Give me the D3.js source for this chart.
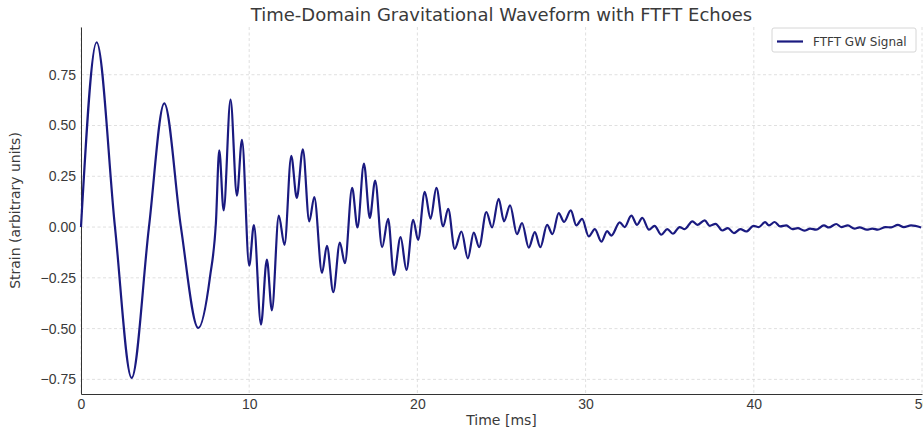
<!DOCTYPE html>
<html>
<head>
<meta charset="utf-8">
<script src="https://cdn.jsdelivr.net/npm/d3@7"></script>
<style>
  body { margin: 0; background: #fff; }
  svg { display: block; font-family: "DejaVu Sans", sans-serif; }
  .grid line { stroke: #d8d8d8; stroke-width: 0.8; stroke-dasharray: 3,2.5; }
  .axis path { stroke: #333; }
  .axis text { fill: #3a3a3a; font-size: 14px; }
</style>
</head>
<body>
<div id="chart"></div>
<script>
const xTicks = [0, 10, 20, 30, 40, 50];
const yTicks = [-0.75, -0.5, -0.25, 0, 0.25, 0.5, 0.75];
const seriesName = "FTFT GW Signal";

// waveform: extrema + a few crossings
const timeMs = [
  0, 0.93, 2.02, 3.01, 4.04, 4.95, 5.94, 6.97, 7.67, 8.02,
  8.22, 8.48, 8.89, 9.27, 9.57, 10.0, 10.28, 10.70, 11.05, 11.35,
  11.76, 12.10, 12.50, 12.83, 13.19, 13.57, 13.87, 14.33, 14.62, 15.00,
  15.39, 15.69, 16.12, 16.44, 16.82, 17.17, 17.49, 17.90, 18.26, 18.60,
  19.00, 19.35, 19.75, 20.04, 20.44, 20.78, 21.13, 21.53, 21.83, 22.22,
  22.62, 23.00, 23.35, 23.67, 24.10, 24.44, 24.83, 25.15, 25.51, 25.92,
  26.22, 26.62, 26.98, 27.31, 27.71, 28.03, 28.40, 28.72, 29.12, 29.45,
  29.79, 30.19, 30.55, 30.94, 31.28, 31.53, 32.03, 32.32, 32.72, 33.06,
  33.37, 33.77, 34.10, 34.50, 34.86, 35.19, 35.59, 35.89, 36.35, 36.64,
  37.08, 37.38, 37.73, 38.13, 38.46, 38.82, 39.20, 39.55, 39.99, 40.30,
  40.67, 40.90, 41.24, 41.57, 41.93, 42.29, 42.62, 43.00, 43.35, 43.70,
  44.17, 44.46, 44.90, 45.20, 45.59, 45.99, 46.29, 46.72, 47.04, 47.37,
  47.83, 48.17, 48.56, 48.92, 49.35, 49.95
];
const strain = [
  0, 0.91, 0.0, -0.743, 0.0, 0.609, 0.0, -0.497, -0.245, 0.02,
  0.378, 0.082, 0.627, 0.155, 0.429, -0.19, 0.01, -0.48, -0.16, -0.41,
  0.056, -0.088, 0.35, 0.143, 0.383, 0.028, 0.148, -0.226, -0.093, -0.32,
  -0.076, -0.178, 0.193, -0.002, 0.313, 0.045, 0.229, -0.099, 0.04, -0.236,
  -0.05, -0.211, 0.036, -0.063, 0.173, 0.041, 0.193, 0.003, 0.09, -0.107,
  -0.022, -0.154, -0.027, -0.099, 0.074, -0.002, 0.139, 0.028, 0.107, -0.035,
  0.02, -0.101, -0.025, -0.099, 0.011, -0.035, 0.069, 0.025, 0.082, 0.008,
  0.04, -0.046, -0.01, -0.072, -0.02, -0.042, 0.023, 0.0, 0.056, 0.011,
  0.045, -0.013, 0.006, -0.038, -0.01, -0.033, 0.0, -0.01, 0.028, 0.011,
  0.033, 0.006, 0.016, -0.017, -0.005, -0.03, -0.01, -0.022, 0.006, 0.0,
  0.024, 0.008, 0.025, 0.003, 0.008, -0.01, -0.005, -0.018, -0.008, -0.013,
  0.008, -0.002, 0.015, 0.0, 0.008, -0.008, -0.002, -0.013, -0.008, -0.013,
  0.0, -0.002, 0.011, 0.0, 0.008, -0.002
];

const width = 923, height = 435;
const margin = {top: 27, right: 1, bottom: 41, left: 81};

const svg = d3.select("#chart").append("svg")
  .attr("width", width)
  .attr("height", height);

const x = d3.scaleLinear().domain([0, 50]).range([margin.left, width - margin.right]);
const y = d3.scaleLinear().domain([-0.822, 0.985]).range([height - margin.bottom, margin.top]);

// grid
svg.append("g").attr("class", "grid")
  .selectAll("line").data(xTicks).enter().append("line")
  .attr("x1", d => x(d)).attr("x2", d => x(d))
  .attr("y1", margin.top).attr("y2", height - margin.bottom);
svg.append("g").attr("class", "grid")
  .selectAll("line").data(yTicks).enter().append("line")
  .attr("x1", margin.left).attr("x2", width - margin.right)
  .attr("y1", d => y(d)).attr("y2", d => y(d));

// axes
const xaxis = d3.axisBottom(x).tickValues(xTicks).tickSize(0).tickPadding(5).tickFormat(d3.format("d"));
svg.append("g").attr("class", "axis")
  .attr("transform", `translate(0,${height - margin.bottom})`)
  .call(xaxis);
const yaxis = d3.axisLeft(y).tickValues(yTicks).tickSize(0).tickPadding(5).tickFormat(d3.format(".2f"));
svg.append("g").attr("class", "axis")
  .attr("transform", `translate(${margin.left},0)`)
  .call(yaxis);

// waveform
const pts = timeMs.map((t, i) => [t, strain[i]]);
const line = d3.line()
  .x(d => x(d[0]))
  .y(d => y(d[1]))
  .curve(d3.curveMonotoneX);
svg.append("path")
  .datum(pts)
  .attr("d", line)
  .attr("fill", "none")
  .attr("stroke", "#1a1a80")
  .attr("stroke-width", 2.2)
  .attr("stroke-linejoin", "round");

// labels
svg.append("text")
  .attr("x", (margin.left + width - margin.right) / 2)
  .attr("y", 21)
  .attr("text-anchor", "middle")
  .attr("fill", "#3a3a3a")
  .style("font-size", "18px")
  .text("Time-Domain Gravitational Waveform with FTFT Echoes");
svg.append("text")
  .attr("x", (margin.left + width - margin.right) / 2)
  .attr("y", 425)
  .attr("text-anchor", "middle")
  .attr("fill", "#3a3a3a")
  .style("font-size", "14px")
  .text("Time [ms]");
svg.append("text")
  .attr("transform", `translate(19.5,${(margin.top + height - margin.bottom) / 2}) rotate(-90)`)
  .attr("text-anchor", "middle")
  .attr("fill", "#3a3a3a")
  .style("font-size", "14px")
  .text("Strain (arbitrary units)");

// legend
const lg = svg.append("g").attr("transform", "translate(772,28)");
lg.append("rect")
  .attr("width", 144).attr("height", 24).attr("rx", 2)
  .attr("fill", "#fff").attr("stroke", "#d6d6d6");
lg.append("line")
  .attr("x1", 5).attr("x2", 31).attr("y1", 13.5).attr("y2", 13.5)
  .attr("stroke", "#1a1a80").attr("stroke-width", 2.2);
lg.append("text")
  .attr("x", 41).attr("y", 18)
  .attr("fill", "#3a3a3a")
  .style("font-size", "12px")
  .text(seriesName);
</script>
</body>
</html>
